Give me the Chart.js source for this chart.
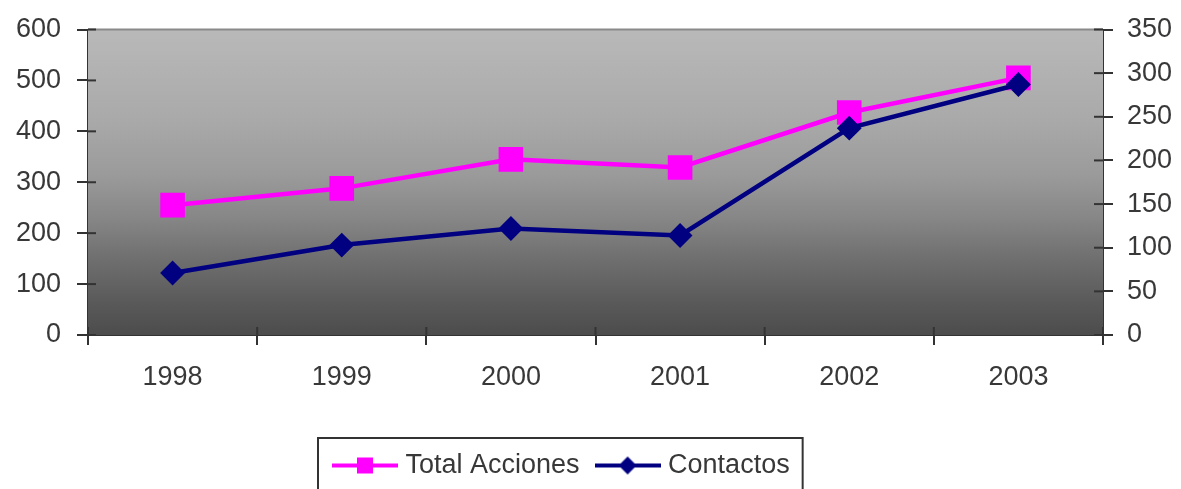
<!DOCTYPE html>
<html>
<head>
<meta charset="utf-8">
<title>Total Acciones y Contactos</title>
<script src="https://cdn.jsdelivr.net/npm/chart.js@4.4.0/dist/chart.umd.min.js"></script>
<style>
  html, body { margin: 0; padding: 0; background: #ffffff; overflow: hidden; }
  #wrap { width: 1181px; height: 489px; position: relative; }
</style>
</head>
<body>
<div id="wrap"><canvas id="chart" width="1181" height="489"></canvas></div>
<script>
// Years on the category axis
const years = ['1998', '1999', '2000', '2001', '2002', '2003'];

// Series values (Total Acciones on the left axis, Contactos on the right axis)
const totalAcciones = [255, 288, 345, 329, 437, 505];
const contactos = [71, 103, 122, 114, 237, 287];

// Axis ranges and tick steps
const leftAxis = { min: 0, max: 600, step: 100 };
const rightAxis = { min: 0, max: 350, step: 50 };

const seriesNames = ['Total Acciones', 'Contactos'];
const seriesColors = ['#ff00ff', '#000080'];

const FONT = '"Liberation Sans", Arial, sans-serif';
const FONT_SIZE = 27;
const TEXT = '#383838';
const AXIS = '#333333';

// Legend icons: a short line with the series marker in the middle
function makeIcon(color, shape) {
  const c = document.createElement('canvas');
  c.width = 66; c.height = 26;
  const g = c.getContext('2d');
  g.strokeStyle = color;
  g.lineWidth = 4;
  g.beginPath(); g.moveTo(0, 13); g.lineTo(66, 13); g.stroke();
  g.fillStyle = color;
  if (shape === 'rect') {
    g.fillRect(25, 5, 16, 16);
  } else {
    g.beginPath();
    g.moveTo(33, 4); g.lineTo(42, 13); g.lineTo(33, 22); g.lineTo(24, 13);
    g.closePath(); g.fill();
  }
  return c;
}
const legendIcons = [makeIcon(seriesColors[0], 'rect'), makeIcon(seriesColors[1], 'diamond')];

// Grey gradient behind the plot with a thin border line on top
const plotBackground = {
  id: 'plotBackground',
  beforeDatasetsDraw(chart) {
    const { ctx, chartArea: a } = chart;
    const grd = ctx.createLinearGradient(0, a.top, 0, a.bottom);
    grd.addColorStop(0.00, '#b9b9b9');
    grd.addColorStop(0.30, '#a9a9a9');
    grd.addColorStop(0.48, '#9a9a9a');
    grd.addColorStop(0.62, '#868686');
    grd.addColorStop(0.75, '#6f6f6f');
    grd.addColorStop(0.89, '#5a5a5a');
    grd.addColorStop(1.00, '#4c4c4c');
    ctx.save();
    ctx.fillStyle = grd;
    ctx.fillRect(a.left, a.top, a.right - a.left, a.bottom - a.top);
    ctx.strokeStyle = '#8a8a8a';
    ctx.lineWidth = 2;
    ctx.beginPath(); ctx.moveTo(a.left, a.top); ctx.lineTo(a.right, a.top); ctx.stroke();
    // tick marks reaching inside the plot
    ctx.strokeStyle = AXIS;
    ctx.lineWidth = 2;
    const y = chart.scales.y, y1 = chart.scales.y1, x = chart.scales.x;
    y.ticks.forEach((t, i) => {
      const p = y.getPixelForTick(i);
      ctx.beginPath(); ctx.moveTo(a.left, p); ctx.lineTo(a.left + 8, p); ctx.stroke();
    });
    y1.ticks.forEach((t, i) => {
      const p = y1.getPixelForTick(i);
      ctx.beginPath(); ctx.moveTo(a.right - 9, p); ctx.lineTo(a.right, p); ctx.stroke();
    });
    for (let i = 0; i <= years.length; i++) {
      const p = x.getPixelForValue(i - 0.5);
      ctx.beginPath(); ctx.moveTo(p, a.bottom - 8); ctx.lineTo(p, a.bottom); ctx.stroke();
    }
    ctx.restore();
  }
};

// Legend placement and its framing box
const LEGEND_PAD = 21;
const legendFrame = {
  id: 'legendFrame',
  afterLayout(chart) {
    const lg = chart.legend;
    const w = lg.right - lg.left;
    lg.left = 317;
    lg.right = lg.left + w;
  },
  afterDraw(chart) {
    const lg = chart.legend;
    const { ctx } = chart;
    ctx.save();
    ctx.font = FONT_SIZE + 'px ' + FONT;
    let width = 0;
    seriesNames.forEach((n, i) => {
      width += 54 + FONT_SIZE / 2 + ctx.measureText(n).width + (i ? 0 : LEGEND_PAD);
    });
    const left = lg.left + LEGEND_PAD - 6 - 14;
    const right = lg.left + LEGEND_PAD + width + 13;
    ctx.strokeStyle = '#333333';
    ctx.lineWidth = 2;
    ctx.strokeRect(left, 438, right - left, 70);
    ctx.restore();
  }
};

const tickFont = { size: FONT_SIZE, family: FONT };
const valueFont = { size: FONT_SIZE, family: FONT, lineHeight: 1 };

new Chart(document.getElementById('chart'), {
  type: 'line',
  data: {
    labels: years,
    datasets: [
      {
        label: seriesNames[0],
        data: totalAcciones,
        yAxisID: 'y',
        order: 1,
        borderColor: seriesColors[0],
        backgroundColor: seriesColors[0],
        borderWidth: 4.5,
        pointStyle: 'rect',
        pointRadius: 16,
        pointHoverRadius: 16,
        pointBorderWidth: 2,
        tension: 0
      },
      {
        label: seriesNames[1],
        data: contactos,
        yAxisID: 'y1',
        order: 0,
        borderColor: seriesColors[1],
        backgroundColor: seriesColors[1],
        borderWidth: 4.5,
        pointStyle: 'rectRot',
        pointRadius: 11,
        pointHoverRadius: 11,
        pointBorderWidth: 2,
        tension: 0
      }
    ]
  },
  options: {
    responsive: false,
    animation: false,
    devicePixelRatio: 1,
    layout: { padding: { top: 29, left: 0, right: 0, bottom: 0 } },
    plugins: {
      tooltip: { enabled: false },
      title: { display: false },
      legend: {
        position: 'bottom',
        align: 'start',
        labels: {
          usePointStyle: true,
          pointStyleWidth: 54,
          padding: LEGEND_PAD,
          color: TEXT,
          font: tickFont,
          generateLabels: (chart) => chart.data.datasets.map((ds, i) => ({
            text: ds.label,
            pointStyle: legendIcons[i],
            datasetIndex: i,
            fontColor: TEXT,
            hidden: false,
            lineWidth: 0,
            strokeStyle: 'rgba(0,0,0,0)',
            fillStyle: 'rgba(0,0,0,0)'
          }))
        }
      }
    },
    scales: {
      x: {
        type: 'category',
        offset: true,
        grid: { offset: true, drawOnChartArea: false, tickLength: 10, color: AXIS, lineWidth: 2 },
        border: { display: true, color: AXIS, width: 2 },
        ticks: { color: TEXT, font: tickFont, padding: 16, maxRotation: 0 },
        afterFit: (s) => { s.height = 96; }
      },
      y: {
        position: 'left',
        min: leftAxis.min,
        max: leftAxis.max,
        grid: { drawOnChartArea: false, tickLength: 11, color: AXIS, lineWidth: 2 },
        border: { display: true, color: AXIS, width: 2 },
        ticks: { stepSize: leftAxis.step, color: TEXT, font: valueFont, padding: 16 },
        afterFit: (s) => { s.width = 88; }
      },
      y1: {
        position: 'right',
        min: rightAxis.min,
        max: rightAxis.max,
        grid: { drawOnChartArea: false, tickLength: 10, color: AXIS, lineWidth: 2 },
        border: { display: true, color: AXIS, width: 2 },
        ticks: { stepSize: rightAxis.step, color: TEXT, font: valueFont, padding: 14 },
        afterFit: (s) => { s.width = 78; }
      }
    }
  },
  plugins: [plotBackground, legendFrame]
});
</script>
</body>
</html>
